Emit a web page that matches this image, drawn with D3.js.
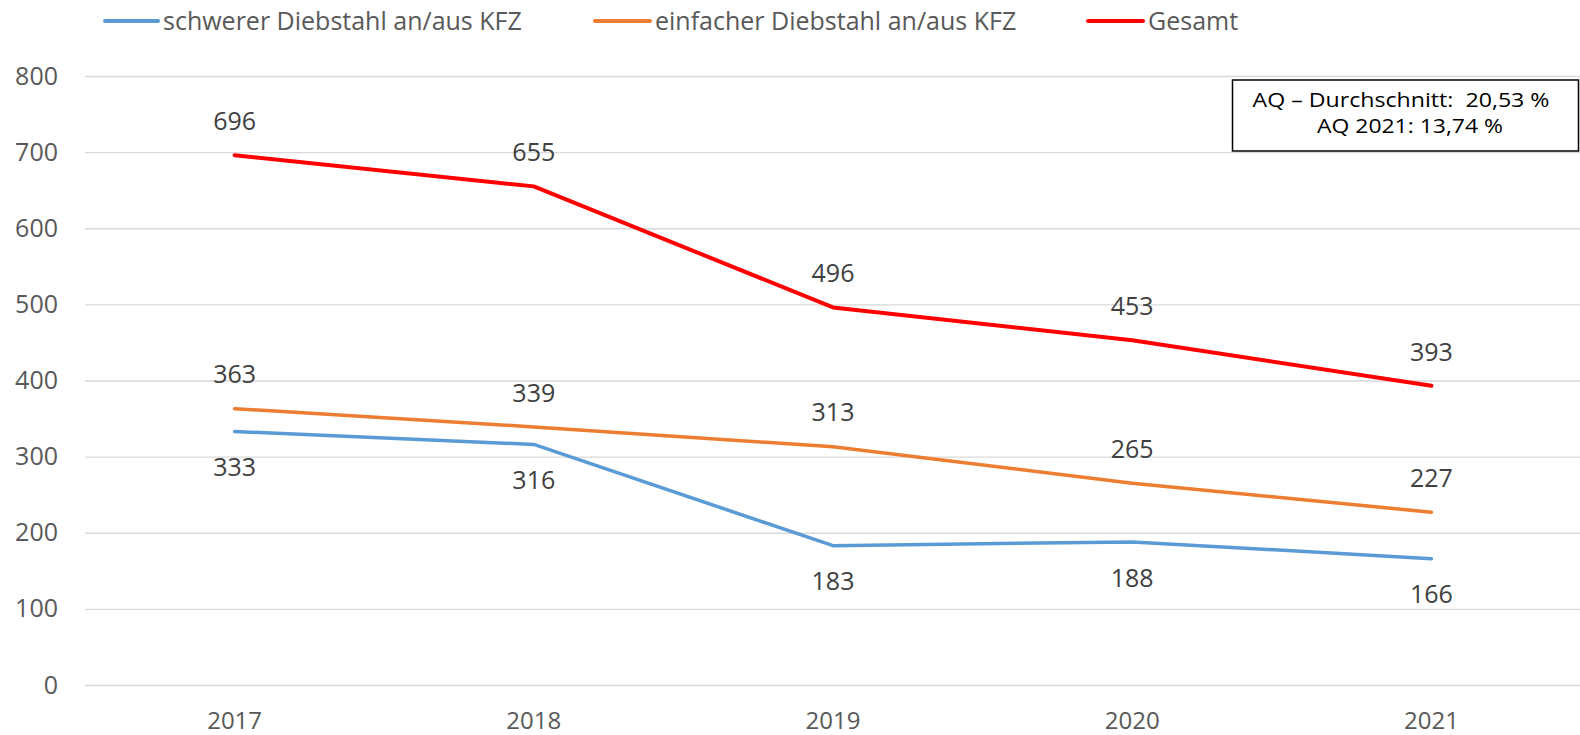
<!DOCTYPE html>
<html>
<head>
<meta charset="utf-8">
<script src="https://cdn.jsdelivr.net/npm/d3@7"></script>
<style>
  body { margin: 0; background: #fff; }
  svg { display: block; font-family: "Open Sans", "Noto Sans", sans-serif; }
  .pre { white-space: pre; }
</style>
</head>
<body>
<div id="chart"></div>
<script>
const years = ['2017', '2018', '2019', '2020', '2021'];
const schwer = [333, 316, 183, 188, 166];
const einfach = [363, 339, 313, 265, 227];
const gesamt = [696, 655, 496, 453, 393];
const yTicks = [0, 100, 200, 300, 400, 500, 600, 700, 800];
const noteLines = ['AQ – Durchschnitt:  20,53 %', 'AQ 2021: 13,74 %'];

const series = [
    { name: 'schwerer Diebstahl an/aus KFZ', values: schwer, color: '#5B9BD5', width: 3.5, labelPos: 'below' },
    { name: 'einfacher Diebstahl an/aus KFZ', values: einfach, color: '#ED7D31', width: 3.5, labelPos: 'above' },
    { name: 'Gesamt', values: gesamt, color: '#FF0000', width: 4, labelPos: 'above' }
];

const width = 1580, height = 735;
const plotLeft = 85, plotRight = 1581, plotTop = 76, plotBottom = 685;
const textColor = '#595959';

const svg = d3.select('#chart').append('svg')
    .attr('width', width)
    .attr('height', height);

const x = d3.scaleBand().domain(years).range([plotLeft, plotRight]);
const y = d3.scaleLinear().domain([0, 800]).range([plotBottom, plotTop]);
const cx = d => x(d) + x.bandwidth() / 2;

// gridlines
svg.append('g')
    .selectAll('line')
    .data(yTicks)
    .enter().append('line')
        .attr('x1', plotLeft)
        .attr('x2', width)
        .attr('y1', d => y(d) + 0.5)
        .attr('y2', d => y(d) + 0.5)
        .attr('stroke', '#D9D9D9')
        .attr('stroke-width', 1.3);

// y axis labels
const yAxis = svg.append('g')
    .attr('transform', `translate(${plotLeft - 27},0)`)
    .call(d3.axisLeft(y).tickValues(yTicks).tickSize(0).tickPadding(0));
yAxis.select('.domain').remove();
yAxis.selectAll('text')
    .attr('fill', textColor)
    .style('font-size', '25px')
    .style('font-family', '"Open Sans", sans-serif');

// x axis labels
const xAxis = svg.append('g')
    .attr('transform', `translate(0,${plotBottom + 27})`)
    .call(d3.axisBottom(x).tickSize(0).tickPadding(0));
xAxis.select('.domain').remove();
xAxis.selectAll('text')
    .attr('fill', textColor)
    .style('font-size', '24px')
    .style('font-family', '"Open Sans", sans-serif');

// lines
const line = d3.line()
    .x((d, i) => cx(years[i]))
    .y(d => y(d));

series.forEach(s => {
    svg.append('path')
        .datum(s.values)
        .attr('d', line)
        .attr('fill', 'none')
        .attr('stroke', s.color)
        .attr('stroke-width', s.width)
        .attr('stroke-linejoin', 'round')
        .attr('stroke-linecap', 'round');

    svg.append('g')
        .selectAll('text')
        .data(s.values)
        .enter().append('text')
            .attr('x', (d, i) => cx(years[i]))
            .attr('y', d => y(d) + (s.labelPos === 'above' ? -34 : 36))
            .attr('dy', '0.35em')
            .attr('text-anchor', 'middle')
            .attr('fill', '#404040')
            .style('font-size', '25px')
            .text(d => d);
});

// legend
const legendItems = [
    { x: 105, textX: 163 },
    { x: 595, textX: 655 },
    { x: 1088, textX: 1148 }
];
series.forEach((s, i) => {
    const g = svg.append('g');
    g.append('line')
        .attr('x1', legendItems[i].x)
        .attr('x2', legendItems[i].textX - 5)
        .attr('y1', 21)
        .attr('y2', 21)
        .attr('stroke', s.color)
        .attr('stroke-width', 4)
        .attr('stroke-linecap', 'round');
    g.append('text')
        .attr('x', legendItems[i].textX)
        .attr('y', 21)
        .attr('dy', '0.35em')
        .attr('fill', textColor)
        .style('font-size', '25px')
        .text(s.name);
});

// annotation box
const noteX = [1401, 1410];
const noteLens = [297, 186];
const note = svg.append('g');
note.append('rect')
    .attr('x', 1232.5)
    .attr('y', 80)
    .attr('width', 346)
    .attr('height', 71)
    .attr('fill', '#fff')
    .attr('stroke', '#000')
    .attr('stroke-width', 1.5);
note.selectAll('text')
    .data(noteLines)
    .enter().append('text')
        .attr('class', 'pre')
        .attr('x', (d, i) => noteX[i])
        .attr('y', (d, i) => 100 + i * 26)
        .attr('dy', '0.35em')
        .attr('text-anchor', 'middle')
        .attr('fill', '#000')
        .attr('textLength', (d, i) => noteLens[i])
        .attr('lengthAdjust', 'spacingAndGlyphs')
        .style('font-size', '19.5px')
        .text(d => d);
</script>
</body>
</html>
